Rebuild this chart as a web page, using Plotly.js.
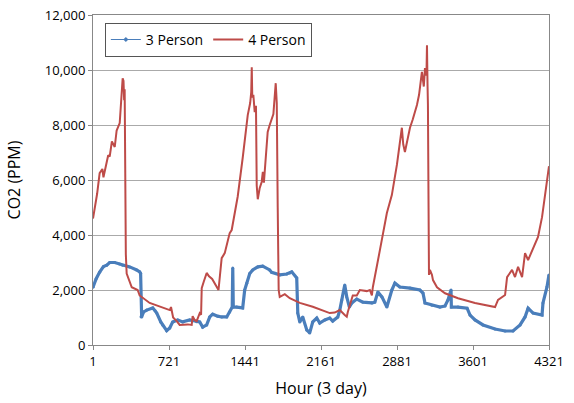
<!DOCTYPE html>
<html>
<head>
<meta charset="utf-8">
<script src="https://cdn.plot.ly/plotly-3.0.1.min.js"></script>
<style>html,body{margin:0;padding:0;background:#fff;}#chart{width:574px;height:403px;}</style>
</head>
<body>
<div id="chart"></div>
<script>
// Hour ticks
const tickHours = [1, 721, 1441, 2161, 2881, 3601, 4321];
const tickLabels = ["1", "721", "1441", "2161", "2881", "3601", "4321"];

// 3 Person series (hour, CO2 ppm)
const hours3 = [1, 30, 64, 100, 131, 159, 207, 254, 282, 349, 415, 443, 452, 456, 462, 480, 510, 567, 590, 605, 643, 661, 699, 728, 756, 803, 851, 917, 983, 1012, 1040, 1078, 1107, 1135, 1182, 1220, 1268, 1296, 1320, 1325, 1330, 1363, 1419, 1438, 1457, 1486, 1514, 1562, 1609, 1675, 1694, 1770, 1836, 1865, 1884, 1931, 1941, 1960, 1988, 2026, 2054, 2083, 2121, 2149, 2197, 2244, 2272, 2320, 2339, 2358, 2386, 2405, 2430, 2453, 2500, 2557, 2643, 2671, 2700, 2738, 2785, 2832, 2861, 2908, 3004, 3098, 3127, 3146, 3212, 3288, 3336, 3364, 3393, 3396, 3459, 3545, 3573, 3620, 3696, 3810, 3905, 3980, 4047, 4094, 4123, 4170, 4255, 4264, 4302, 4321];
const co2_3 = [2100, 2400, 2650, 2850, 2900, 3000, 3000, 2950, 2900, 2840, 2730, 2660, 2600, 1030, 1020, 1200, 1270, 1350, 1250, 1160, 840, 730, 520, 620, 840, 910, 840, 910, 850, 840, 650, 730, 1020, 1120, 1050, 1020, 1020, 1200, 1380, 2800, 1380, 1380, 1350, 2000, 2250, 2600, 2730, 2840, 2870, 2730, 2640, 2550, 2580, 2620, 2660, 2440, 1160, 840, 1020, 550, 440, 840, 980, 800, 910, 980, 870, 1020, 1270, 1640, 2180, 1750, 1380, 1530, 1670, 1560, 1530, 1560, 1930, 1750, 1380, 2000, 2250, 2110, 2070, 2000, 1890, 1530, 1450, 1380, 1420, 1640, 2000, 1380, 1380, 1340, 1090, 910, 730, 580, 510, 510, 730, 1020, 1340, 1160, 1090, 1530, 2110, 2550];

// 4 Person series (hour, CO2 ppm)
const hours4 = [1, 40, 64, 90, 100, 131, 145, 159, 180, 207, 225, 254, 265, 275, 282, 290, 296, 301, 306, 312, 320, 349, 368, 424, 443, 538, 643, 728, 740, 760, 794, 822, 900, 936, 945, 965, 983, 1012, 1025, 1031, 1050, 1078, 1100, 1130, 1190, 1220, 1249, 1296, 1315, 1372, 1419, 1467, 1490, 1500, 1505, 1510, 1520, 1533, 1545, 1552, 1562, 1580, 1599, 1610, 1620, 1628, 1656, 1675, 1694, 1710, 1732, 1742, 1751, 1760, 1770, 1818, 1865, 1960, 2083, 2149, 2244, 2291, 2339, 2386, 2405, 2415, 2462, 2500, 2529, 2595, 2624, 2643, 2652, 2719, 2785, 2832, 2880, 2927, 2940, 2956, 2980, 3004, 3030, 3070, 3090, 3117, 3135, 3146, 3160, 3165, 3170, 3174, 3180, 3184, 3193, 3212, 3222, 3260, 3336, 3459, 3620, 3810, 3838, 3905, 3924, 3950, 3971, 3999, 4028, 4066, 4094, 4123, 4160, 4217, 4255, 4283, 4300, 4321];
const co2_4 = [4600, 5500, 6250, 6400, 6100, 6600, 6900, 6850, 7400, 7200, 7800, 8070, 8700, 9500, 9700, 9600, 8900, 9300, 5000, 3300, 2600, 2300, 2100, 2000, 1800, 1530, 1380, 1270, 1380, 1000, 870, 730, 750, 730, 1050, 900, 870, 1160, 1100, 2070, 2300, 2620, 2500, 2400, 2000, 3160, 3340, 4070, 4180, 5400, 6800, 8360, 8800, 9200, 10100, 9000, 9100, 8470, 8700, 5800, 5300, 5700, 5930, 6300, 5900, 6290, 7750, 8000, 8250, 8400, 9520, 8800, 5000, 2000, 1750, 1850, 1700, 1530, 1390, 1300, 1160, 1180, 1270, 1090, 1030, 1200, 1800, 1800, 2000, 1960, 2000, 1800, 2100, 3450, 4800, 5450, 6550, 7900, 7300, 7020, 7500, 7900, 8200, 8730, 9100, 9930, 9400, 10070, 9800, 10900, 9500, 8730, 5000, 2550, 2730, 2550, 2360, 2100, 1880, 1700, 1530, 1380, 1640, 1820, 2470, 2600, 2730, 2470, 2840, 2470, 3340, 3090, 3450, 3930, 4650, 5530, 5900, 6500];

const blue = '#4A7EBB', red = '#BE4B48';
const font = 'Open Sans, Noto Sans, sans-serif';

const traces = [
  {x: hours3, y: co2_3, type: 'scatter', mode: 'lines+markers', name: '3 Person', showlegend: false,
   line: {color: blue, width: 3.2}, marker: {color: blue, size: 3}},
  {x: hours4, y: co2_4, type: 'scatter', mode: 'lines', name: '4 Person', showlegend: false,
   line: {color: red, width: 2}},
  {x: [null], y: [null], type: 'scatter', mode: 'lines+markers', name: '3 Person',
   line: {color: blue, width: 1.2}, marker: {color: blue, size: 4, symbol: 'diamond'}},
  {x: [null], y: [null], type: 'scatter', mode: 'lines', name: '4 Person',
   line: {color: red, width: 2}}
];

const layout = {
  width: 574, height: 403,
  margin: {l: 93, r: 25, t: 15, b: 58},
  paper_bgcolor: '#fff', plot_bgcolor: '#fff',
  font: {family: font, color: '#000', size: 13},
  showlegend: true,
  legend: {orientation: 'h', x: 0.026, y: 0.976, xanchor: 'left', yanchor: 'top',
    bgcolor: '#fff', bordercolor: '#555', borderwidth: 1,
    font: {family: font, size: 14, color: '#000'}, itemwidth: 30, tracegroupgap: 0},
  xaxis: {
    range: [1, 4321], tickvals: tickHours, ticktext: tickLabels,
    showgrid: false, zeroline: false,
    showline: true, linecolor: '#888', linewidth: 1, mirror: true,
    ticks: 'outside', ticklen: 4, tickcolor: '#888',
    tickfont: {family: font, size: 13},
    title: {text: 'Hour (3 day)', font: {family: font, size: 16}, standoff: 14}
  },
  yaxis: {
    range: [0, 12000], dtick: 2000, tickformat: ',d',
    showgrid: true, gridcolor: '#AAAAAA', gridwidth: 1, zeroline: false,
    showline: true, linecolor: '#888', linewidth: 1, mirror: true,
    ticks: 'outside', ticklen: 4, tickcolor: '#888',
    tickfont: {family: font, size: 13},
    title: {text: 'CO2 (PPM)', font: {family: font, size: 16}, standoff: 20}
  }
};

Plotly.newPlot('chart', traces, layout, {displayModeBar: false, staticPlot: true});
</script>
</body>
</html>
